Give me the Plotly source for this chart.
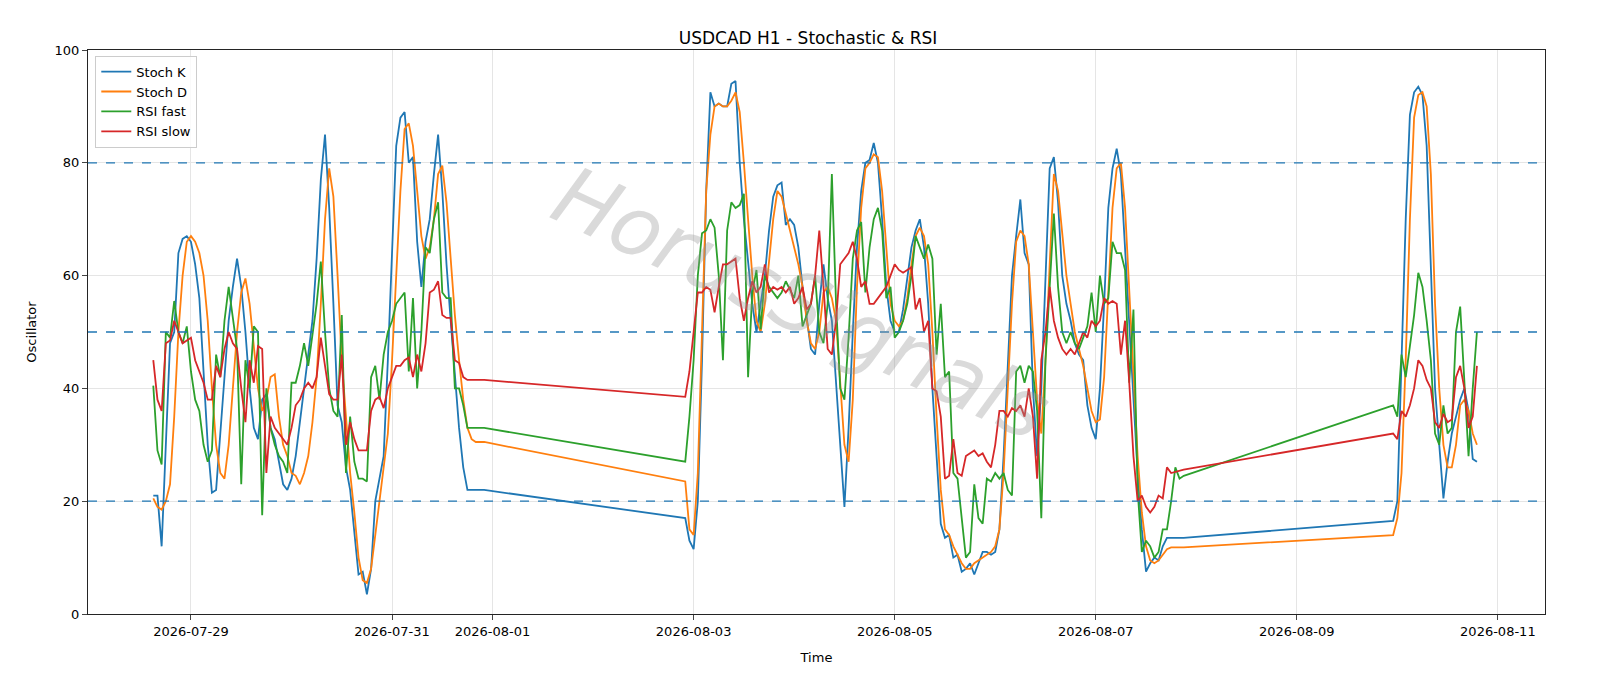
import plotly.graph_objects as go
import pandas as pd

# hourly bars, three trading blocks separated by gaps
seg_starts = ["2026-07-28 15:00", "2026-08-02 22:00", "2026-08-09 23:00"]

stoch_k = [
    [21, 21, 12, 30, 48, 50, 64, 66.5, 67, 66,
     62, 56, 42, 30, 21.5, 22, 32, 42, 52, 58,
     63, 58, 50, 40, 33, 31, 38, 39, 33, 31,
     27, 23, 22, 24, 28, 34, 40, 46, 52, 63,
     77, 85, 72, 55, 37, 34, 26, 22, 15, 7,
     7.5, 3.5, 8, 20, 24, 28, 45, 65, 83, 88,
     89, 80, 81, 66, 58, 66, 70, 78, 85, 75,
     62, 52, 42, 33, 26, 22, 22, 22, 22, 22],
    [17, 13, 11.5, 20, 45, 75, 92.5, 90, 90.5, 90,
     90, 94, 94.5, 80, 70, 62, 55, 50, 55, 60,
     68, 74, 76, 76.5, 69, 70, 69, 65, 58, 52,
     47, 46, 55, 62, 56, 52, 40, 30, 19, 33,
     50, 65, 75, 80, 80.5, 83.5, 80, 70, 58, 52,
     50, 50, 54, 60, 65, 68, 70, 65, 55, 40,
     27, 16, 13.5, 14, 10, 10.5, 7.5, 8, 9, 7,
     9, 11, 11, 10.5, 11, 15, 28, 45, 60, 67,
     73.5, 64, 62, 40, 28, 40, 60, 79, 81, 73,
     60, 55, 52, 48, 46, 45, 37, 33, 31, 40,
     55, 72, 79, 82.5, 78, 65, 52, 40, 25, 15,
     7.5, 9, 10, 9.5, 12, 13.5, 13.5, 13.5, 13.5, 13.5],
    [16.5, 20, 45, 70, 88.5, 92.5, 93.5, 92, 83, 60, 40, 30, 20.5, 27, 32,
     35, 38, 40, 36, 27.5, 27],
]
stoch_d = [
    [20.5, 19, 18.5, 20, 23, 35, 50, 60, 66, 67,
     66, 64, 60, 52, 40, 30, 25, 24, 30, 40,
     50, 57, 59.5, 55, 47, 40, 36, 38, 42, 42.5,
     35, 30, 28, 25, 24.5, 23, 25, 28, 34, 42,
     55, 70, 79, 74, 60, 45, 35, 25, 18, 10,
     6, 5.5, 8, 14, 20, 25, 32, 45, 60, 75,
     86, 87, 83, 75, 67, 63, 65, 70, 78, 79.5,
     73, 63, 53, 45, 38, 33, 31, 30.5, 30.5, 30.5],
    [23.5, 15, 14, 25, 50, 75, 85, 90, 90.5, 90,
     90, 91, 92.5, 89, 80, 70, 60, 52, 50, 55,
     62, 70, 75, 74, 71, 68, 65, 62, 58, 52,
     48, 47, 50, 57, 58, 56, 52, 40, 30, 27,
     38, 58, 72, 79, 80, 81.5, 81, 75, 65, 55,
     52, 51, 52, 56, 62, 67, 68.5, 67, 62, 50,
     35, 22, 15, 14, 12, 10.5, 9, 8, 8, 9,
     9.5, 10, 10.5, 11, 12, 15, 25, 40, 55, 66,
     68, 67, 62, 50, 38, 32, 45, 62, 78, 75,
     68, 60, 55, 50, 47, 44, 40, 36, 34, 34.5,
     42, 58, 72, 79, 80, 72, 58, 42, 28, 18,
     12, 9.5, 9, 9.5, 10.5, 11.5, 11.8, 11.8, 11.8, 11.8],
    [14, 17, 25, 45, 70, 88, 92, 92.5, 90, 78, 55, 40, 30, 26, 26,
     30, 37, 38, 36, 32, 30],
]
rsi_fast = [
    [40.5, 29, 26.5, 50, 49, 55.5, 50, 48, 51, 43,
     38, 36, 30, 27, 29, 46, 42, 52, 58, 52,
     47, 23, 45, 40, 51, 50, 17.5, 40, 33, 30,
     28, 27, 25, 41, 41, 44, 48, 44, 50, 55,
     62.5, 50, 40, 36, 35, 53, 25, 35, 27, 24,
     24, 23.5, 42, 44, 38, 46, 50, 52, 55, 56,
     57, 43, 56, 40, 50, 65, 64, 70, 73, 57,
     56, 56, 40, 40, 37, 33, 33, 33, 33, 33],
    [27, 35, 45, 60, 67.5, 68, 70, 68.5, 60, 45,
     68, 73, 72, 72.5, 74.5, 42, 57, 61, 50.5, 60,
     58, 57, 56, 57, 59, 57.5, 56, 60, 51, 53,
     55, 60, 50, 48, 55, 78, 55, 40, 38, 49,
     63, 68, 69.5, 57, 65, 70, 72, 68, 56, 58,
     49, 50, 52, 55, 60, 67, 65, 63, 65.5, 63,
     46, 55, 42, 43, 25, 24, 17, 10, 11, 23,
     17, 16, 24, 23.5, 25, 24, 25, 22, 21, 43,
     44, 41, 44, 43, 36, 17, 45, 58, 71, 58,
     50, 48, 50, 48, 47, 49, 51, 57, 50, 60,
     55, 56, 66, 64, 64, 61, 41, 54, 22, 11,
     13, 12, 10, 11, 15, 15, 20, 26, 24, 24.5],
    [37, 35, 46, 42, 48, 53, 60.5, 58, 52, 45, 32, 30, 37, 32, 33,
     50, 54.5, 40, 28, 40, 50],
]
rsi_slow = [
    [45, 38, 36, 48, 48.5, 52, 50, 48, 48.5, 49,
     45, 43, 41, 38, 38, 44, 42, 47, 50, 48,
     47, 40, 34, 45, 41, 47.5, 47, 25, 35, 33,
     32, 31, 30, 33, 37, 38, 40, 41, 40, 42,
     49, 44, 39, 38, 38, 46, 30, 34, 31, 29,
     29, 29, 36, 38, 38.5, 36.5, 40, 42, 44, 44,
     45, 45.5, 42, 46, 43, 48, 57, 57.5, 59, 53,
     52.5, 52.5, 45, 44.5, 42, 41.5, 41.5, 41.5, 41.5, 41.5],
    [38.5, 43, 50, 57, 57, 58, 57.5, 53.5, 58, 62,
     62, 62.5, 63, 56, 52, 56, 59, 57, 58, 62,
     57, 58, 57.5, 58, 57, 58, 55, 56, 58, 54,
     55, 60, 68, 58, 47, 46, 52, 62, 63, 64,
     66, 63, 58, 59, 55, 55, 56, 57, 58, 60,
     62, 61, 60.5, 61, 61.5, 54, 56, 50, 52, 40,
     39.5, 35, 24, 24.5, 31, 25, 24.5, 28, 28.5, 29,
     28, 28.5, 27, 26, 30, 36, 36, 35, 36.5, 36,
     37, 35, 40, 35, 24, 45, 50, 58, 52, 49,
     47, 46, 47, 46, 48, 50, 49, 52, 51, 52,
     56, 55, 55.5, 55, 46, 52, 41, 28, 20, 21,
     19, 18, 19, 21, 20.5, 26, 25, 25.2, 25.4, 25.6],
    [32, 31, 36, 35, 37, 40, 45, 44, 41.5, 40, 34, 33, 35.5, 34, 34.5,
     42, 44, 40, 33, 35, 44],
]

times = []
for start, seg in zip(seg_starts, stoch_k):
    times += list(pd.date_range(start, periods=len(seg), freq="h"))

def flat(parts):
    return [v for p in parts for v in p]

series = [("Stoch K", stoch_k, "#1f77b4"), ("Stoch D", stoch_d, "#ff7f0e"),
          ("RSI fast", rsi_fast, "#2ca02c"), ("RSI slow", rsi_slow, "#d62728")]

fig = go.Figure()
for name, vals, col in series:
    fig.add_trace(go.Scatter(x=times, y=flat(vals), mode="lines", name=name,
                             line=dict(color=col, width=1.8)))

for lvl in [20, 50, 80]:
    fig.add_shape(type="line", xref="paper", x0=0, x1=1, y0=lvl, y1=lvl,
                  opacity=1, layer="above",
                  line=dict(color="#1f77b4", dash="dash", width=1.3))

fig.add_annotation(text="HorusSignals", xref="paper", yref="paper", x=0.49, y=0.55,
                   showarrow=False, textangle=25,
                   font=dict(size=82, color="rgba(150,150,150,0.35)",
                             family="DejaVu Sans", style="italic", weight="normal"))

tick_days = ["2026-07-29", "2026-07-31", "2026-08-01", "2026-08-03", "2026-08-05",
             "2026-08-07", "2026-08-09", "2026-08-11"]

fig.update_layout(
    width=1600, height=686, template="simple_white",
    title=dict(text="USDCAD H1 - Stochastic & RSI", x=0.5, y=0.965,
               font=dict(size=17, color="black")),
    font=dict(family="DejaVu Sans", size=13, color="black"),
    margin=dict(l=80, r=63, t=42, b=80),
    legend=dict(x=0.005, y=0.99, bgcolor="rgba(255,255,255,0.8)",
                bordercolor="#cccccc", borderwidth=1, font=dict(size=13)),
    xaxis=dict(title=dict(text="Time", font=dict(size=13)),
               range=["2026-07-27 23:25", "2026-08-11 11:15"],
               tickvals=tick_days, ticktext=tick_days, showgrid=True,
               gridcolor="#e5e5e5", mirror=True, ticks="outside", showline=True),
    yaxis=dict(title=dict(text="Oscillator", font=dict(size=13)),
               range=[0, 100], dtick=20, showgrid=True,
               gridcolor="#e5e5e5", mirror=True, ticks="outside", showline=True),
)

fig.write_html("out.html")
